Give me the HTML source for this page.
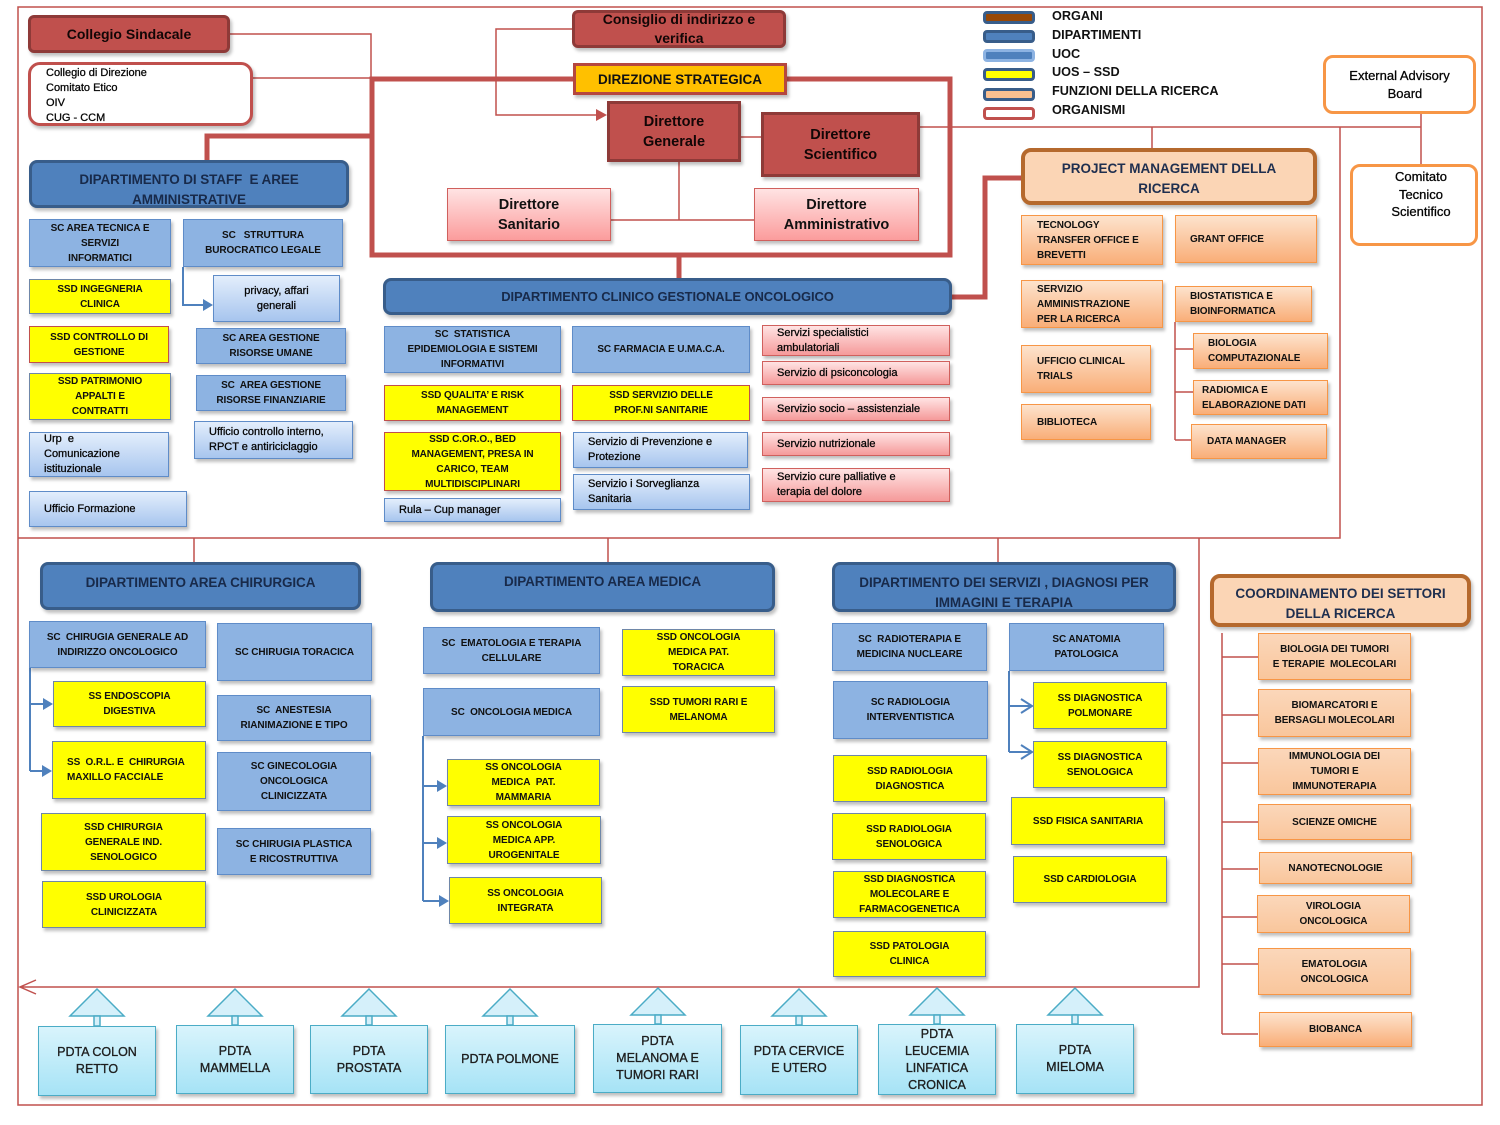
<!DOCTYPE html>
<html><head><meta charset="utf-8">
<style>
*{margin:0;padding:0;box-sizing:border-box}
body{width:1500px;height:1125px;background:#fff;position:relative;overflow:hidden;font-family:"Liberation Sans",Arial,sans-serif;color:#111}
.b{position:absolute;display:flex;align-items:center;justify-content:center;text-align:center;box-shadow:2px 3px 3px rgba(0,0,0,0.25);z-index:2}
.L{justify-content:flex-start;text-align:left}
.org{background:#c0504d;border:3px solid #8e3a38;font-weight:bold;font-size:14.5px;line-height:20px;color:#120606}
.dep{background:#4f81bd;border:3px solid #385d8a;border-radius:8px;font-weight:bold;font-size:13.5px;line-height:20px;color:#182a4a;letter-spacing:-0.1px}
.uoc{background:#8db3e2;border:1.5px solid #5f8cc8;font-weight:bold;font-size:10px;line-height:15px;letter-spacing:-0.1px}
.yel{background:#ffff00;border:1.5px solid #6f87a8;font-weight:bold;font-size:10px;line-height:15px;letter-spacing:-0.1px}
.yr{border-color:#c0504d}
.rg{-webkit-text-stroke:0.3px #111;color:#000}
.lb{background:linear-gradient(#e3eefc,#a7c5ee);border:1.5px solid #5f8cc8;font-size:11px;line-height:15px}
.pk{background:linear-gradient(#ffe3e3,#f59a9a);border:1.5px solid #d0605d;font-size:11px;line-height:15px}
.or{background:linear-gradient(#fde3cd,#f9ae78);border:1.5px solid #f79646;font-weight:bold;font-size:10px;line-height:15px;letter-spacing:-0.1px}
.co{background:linear-gradient(#fbd7ba,#f9c69c);border:1.5px solid #f79646;font-weight:bold;font-size:10px;line-height:15px;letter-spacing:-0.1px}
.pd{background:linear-gradient(#d9f4fc,#a6e3f6);border:1.5px solid #4bacc6;font-size:12.5px;line-height:17px;color:#222}
.dr{background:linear-gradient(#ffe3e3,#fb9c9c);border:1.5px solid #d0605d;font-weight:bold;font-size:14.5px;line-height:20px}
.lg{position:absolute;left:983px;width:52px;height:13px;border-radius:4px;border:3px solid #385d8a}
.lt{position:absolute;left:1052px;font-weight:bold;font-size:12.7px;line-height:16px}
</style></head><body>

<svg width="1500" height="1125" style="position:absolute;left:0;top:0;z-index:1">
<g fill="none" stroke="#c0504d" stroke-width="1.5">
<rect x="18" y="7" width="1464" height="1098"/>
<path d="M18 538H1340V127"/>
<path d="M920 127H1421M1421 114V164M1152 127V148"/>
<path d="M230 34H371V78M253 78H372"/>
<path d="M572 29H496V115H598"/>
<path d="M741 137H761M679 162V220M611 220H754"/>
<path d="M194 538V562M608 538V562M998 538V562M1199 538V987H20M36 980L20 987L36 994"/>
<path d="M1175 322V440M1175 349H1193M1175 392H1193M1175 440H1191"/>
<path d="M1222 633V1034M1222 657H1258M1222 715H1258M1222 763H1258M1222 822H1258M1222 869H1258M1222 917H1258M1222 964H1258M1222 1034H1258"/>
</g>
<polygon points="596,109 607,115 596,121" fill="#c0504d"/>
<g fill="none" stroke="#c0504d" stroke-width="5">
<path d="M372 79H950V255H372Z"/>
<path d="M679 255V278"/>
<path d="M952 297H985V178H1021"/>
<path d="M207 160V136H372"/>
</g>
<g fill="none" stroke="#4f81bd" stroke-width="2">
<path d="M183 267V305H204"/>
<path d="M30 668V771M30 704H44M30 771H43"/>
<path d="M423 736V901M423 786H438M423 843H438M423 901H440"/>
<path d="M1009 671V752M1009 706H1032M1009 752H1032M1021 699L1032 706L1021 713M1021 745L1032 752L1021 759"/>
</g>
<g fill="#4f81bd">
<polygon points="203,299 213,305 203,311"/>
<polygon points="43,698 53,704 43,710"/>
<polygon points="42,765 52,771 42,777"/>
<polygon points="437,780 447,786 437,792"/>
<polygon points="437,837 447,843 437,849"/>
<polygon points="439,895 449,901 439,907"/>
</g>
<g fill="#d5f0fa" stroke="#4bacc6" stroke-width="1.5">
<polygon points="97,989 70,1016 124,1016"/><rect x="94" y="1016" width="6" height="10"/>
<polygon points="235,989 208,1016 262,1016"/><rect x="232" y="1016" width="6" height="9"/>
<polygon points="369,989 342,1016 396,1016"/><rect x="366" y="1016" width="6" height="9"/>
<polygon points="510,989 483,1016 537,1016"/><rect x="507" y="1016" width="6" height="9"/>
<polygon points="658,988 631,1015 685,1015"/><rect x="655" y="1015" width="6" height="9"/>
<polygon points="799,989 772,1016 826,1016"/><rect x="796" y="1016" width="6" height="9"/>
<polygon points="937,988 910,1015 964,1015"/><rect x="934" y="1015" width="6" height="9"/>
<polygon points="1075,988 1048,1015 1102,1015"/><rect x="1072" y="1015" width="6" height="9"/>
</g>
</svg>

<!-- Top organs -->
<div class="b org" style="left:28px;top:15px;width:202px;height:38px;border-radius:6px;font-size:14px">Collegio Sindacale</div>
<div class="b L rg" style="left:28px;top:62px;width:225px;height:64px;background:#fff;border:3px solid #c0504d;border-radius:12px;font-size:11px;line-height:15px;padding-left:15px;align-items:flex-start;padding-top:1px">Collegio di Direzione<br>Comitato Etico<br>OIV<br>CUG - CCM</div>
<div class="b org" style="left:572px;top:10px;width:214px;height:38px;border-radius:6px;font-size:14px;line-height:19px">Consiglio di indirizzo e<br>verifica</div>
<div class="b" style="left:573px;top:63px;width:214px;height:32px;background:#ffc000;border:3px solid #b5473f;font-weight:bold;font-size:13.5px;color:#111">DIREZIONE STRATEGICA</div>
<div class="b org" style="left:607px;top:101px;width:134px;height:61px">Direttore<br>Generale</div>
<div class="b org" style="left:761px;top:112px;width:159px;height:65px">Direttore<br>Scientifico</div>
<div class="b dr" style="left:447px;top:188px;width:164px;height:53px">Direttore<br>Sanitario</div>
<div class="b dr" style="left:754px;top:188px;width:165px;height:53px">Direttore<br>Amministrativo</div>

<!-- Legend -->
<div class="lg" style="top:11px;background:#984807"></div>
<div class="lg" style="top:30px;background:#4f81bd"></div>
<div class="lg" style="top:49px;background:#4f81bd;border-color:#8db3e2"></div>
<div class="lg" style="top:68px;background:#ffff00"></div>
<div class="lg" style="top:88px;background:#fac090"></div>
<div class="lg" style="top:107px;background:#fff;border-color:#c0504d"></div>
<div class="lt" style="top:8px">ORGANI</div>
<div class="lt" style="top:27px">DIPARTIMENTI</div>
<div class="lt" style="top:46px">UOC</div>
<div class="lt" style="top:64px">UOS – SSD</div>
<div class="lt" style="top:83px">FUNZIONI DELLA RICERCA</div>
<div class="lt" style="top:102px">ORGANISMI</div>

<div class="b rg" style="left:1323px;top:55px;width:153px;height:59px;background:#fff;border:3px solid #f79646;border-radius:10px;font-size:13px;line-height:18px;box-shadow:none">External Advisory<br>&nbsp;&nbsp;&nbsp;Board</div>
<div class="b rg" style="left:1350px;top:164px;width:128px;height:82px;background:#fff;border:3px solid #f79646;border-radius:10px;font-size:13px;line-height:17.5px;align-items:flex-start;padding-top:1px;padding-left:14px;box-shadow:none">Comitato<br>Tecnico<br>Scientifico</div>

<!-- Project management -->
<div class="b" style="left:1021px;top:148px;width:296px;height:57px;background:#fbd5b5;border:4px solid #b5692d;border-radius:10px;font-weight:bold;font-size:13.5px;line-height:20px;color:#1f2f4f;padding-top:5px">PROJECT MANAGEMENT DELLA<br>RICERCA</div>
<div class="b or L" style="left:1021px;top:215px;width:142px;height:50px;padding-left:15px">TECNOLOGY<br>TRANSFER OFFICE E<br>BREVETTI</div>
<div class="b or L" style="left:1175px;top:215px;width:142px;height:48px;padding-left:14px">GRANT OFFICE</div>
<div class="b or L" style="left:1021px;top:280px;width:142px;height:48px;padding-left:15px">SERVIZIO<br>AMMINISTRAZIONE<br>PER LA RICERCA</div>
<div class="b or L" style="left:1175px;top:286px;width:137px;height:36px;padding-left:14px">BIOSTATISTICA E<br>BIOINFORMATICA</div>
<div class="b or L" style="left:1193px;top:333px;width:135px;height:36px;padding-left:14px">BIOLOGIA<br>COMPUTAZIONALE</div>
<div class="b or L" style="left:1193px;top:380px;width:135px;height:35px;padding-left:8px">RADIOMICA E<br>ELABORAZIONE DATI</div>
<div class="b or L" style="left:1191px;top:424px;width:136px;height:35px;padding-left:15px">DATA MANAGER</div>
<div class="b or L" style="left:1021px;top:345px;width:130px;height:48px;padding-left:15px">UFFICIO CLINICAL<br>TRIALS</div>
<div class="b or L" style="left:1021px;top:404px;width:130px;height:36px;padding-left:15px">BIBLIOTECA</div>

<!-- Staff -->
<div class="b dep" style="left:29px;top:160px;width:320px;height:48px;padding-top:12px">DIPARTIMENTO DI STAFF&nbsp; E AREE<br>AMMINISTRATIVE</div>
<div class="b uoc" style="left:29px;top:219px;width:142px;height:48px">SC AREA TECNICA E<br>SERVIZI<br>INFORMATICI</div>
<div class="b uoc" style="left:183px;top:219px;width:160px;height:48px">SC&nbsp;&nbsp; STRUTTURA<br>BUROCRATICO LEGALE</div>
<div class="b yel" style="left:29px;top:279px;width:142px;height:35px">SSD INGEGNERIA<br>CLINICA</div>
<div class="b yel yr" style="left:29px;top:326px;width:140px;height:37px">SSD CONTROLLO DI<br>GESTIONE</div>
<div class="b yel" style="left:29px;top:373px;width:142px;height:47px">SSD PATRIMONIO<br>APPALTI E<br>CONTRATTI</div>
<div class="b lb L rg" style="left:29px;top:432px;width:140px;height:45px;padding-left:14px">Urp&nbsp; e<br>Comunicazione<br>istituzionale</div>
<div class="b lb L rg" style="left:29px;top:491px;width:158px;height:36px;padding-left:14px">Ufficio Formazione</div>
<div class="b lb rg" style="left:213px;top:275px;width:127px;height:47px">privacy, affari<br>generali</div>
<div class="b uoc" style="left:196px;top:328px;width:150px;height:36px">SC AREA GESTIONE<br>RISORSE UMANE</div>
<div class="b uoc" style="left:196px;top:375px;width:150px;height:36px">SC&nbsp; AREA GESTIONE<br>RISORSE FINANZIARIE</div>
<div class="b lb L rg" style="left:194px;top:421px;width:159px;height:38px;padding-left:14px">Ufficio controllo interno,<br>RPCT e antiriciclaggio</div>

<!-- Dip clinico -->
<div class="b dep" style="left:383px;top:278px;width:569px;height:37px;font-size:13px">DIPARTIMENTO CLINICO GESTIONALE ONCOLOGICO</div>
<div class="b uoc" style="left:384px;top:326px;width:177px;height:47px">SC&nbsp; STATISTICA<br>EPIDEMIOLOGIA E SISTEMI<br>INFORMATIVI</div>
<div class="b uoc" style="left:572px;top:326px;width:178px;height:47px">SC FARMACIA E U.MA.C.A.</div>
<div class="b yel yr" style="left:384px;top:385px;width:177px;height:36px">SSD QUALITA’ E RISK<br>MANAGEMENT</div>
<div class="b yel yr" style="left:572px;top:385px;width:178px;height:36px">SSD SERVIZIO DELLE<br>PROF.NI SANITARIE</div>
<div class="b yel yr" style="left:384px;top:432px;width:177px;height:59px">SSD C.OR.O., BED<br>MANAGEMENT, PRESA IN<br>CARICO, TEAM<br>MULTIDISCIPLINARI</div>
<div class="b lb L rg" style="left:384px;top:498px;width:177px;height:24px;padding-left:14px">Rula – Cup manager</div>
<div class="b lb L rg" style="left:573px;top:432px;width:175px;height:36px;padding-left:14px">Servizio di Prevenzione e<br>Protezione</div>
<div class="b lb L rg" style="left:573px;top:474px;width:177px;height:36px;padding-left:14px">Servizio i Sorveglianza<br>Sanitaria</div>
<div class="b pk L rg" style="left:762px;top:325px;width:188px;height:31px;padding-left:14px">Servizi specialistici<br>ambulatoriali</div>
<div class="b pk L rg" style="left:762px;top:361px;width:188px;height:24px;padding-left:14px">Servizio di psiconcologia</div>
<div class="b pk L rg" style="left:762px;top:397px;width:188px;height:24px;padding-left:14px">Servizio socio – assistenziale</div>
<div class="b pk L rg" style="left:762px;top:432px;width:188px;height:24px;padding-left:14px">Servizio nutrizionale</div>
<div class="b pk L rg" style="left:762px;top:468px;width:188px;height:34px;padding-left:14px">Servizio cure palliative e<br>terapia del dolore</div>

<!-- Chirurgica -->
<div class="b dep" style="left:40px;top:562px;width:321px;height:48px;padding-bottom:6px">DIPARTIMENTO AREA CHIRURGICA</div>
<div class="b uoc" style="left:29px;top:621px;width:177px;height:47px">SC&nbsp; CHIRUGIA GENERALE AD<br>INDIRIZZO ONCOLOGICO</div>
<div class="b uoc" style="left:217px;top:623px;width:155px;height:58px">SC CHIRUGIA TORACICA</div>
<div class="b yel" style="left:53px;top:681px;width:153px;height:46px">SS ENDOSCOPIA<br>DIGESTIVA</div>
<div class="b uoc" style="left:217px;top:695px;width:154px;height:46px">SC&nbsp; ANESTESIA<br>RIANIMAZIONE E TIPO</div>
<div class="b yel L" style="left:52px;top:741px;width:154px;height:58px;padding-left:14px">SS&nbsp; O.R.L. E&nbsp; CHIRURGIA<br>MAXILLO FACCIALE</div>
<div class="b uoc" style="left:217px;top:752px;width:154px;height:59px">SC GINECOLOGIA<br>ONCOLOGICA<br>CLINICIZZATA</div>
<div class="b yel" style="left:41px;top:813px;width:165px;height:58px">SSD CHIRURGIA<br>GENERALE IND.<br>SENOLOGICO</div>
<div class="b uoc" style="left:217px;top:828px;width:154px;height:47px">SC CHIRUGIA PLASTICA<br>E RICOSTRUTTIVA</div>
<div class="b yel" style="left:42px;top:881px;width:164px;height:47px">SSD UROLOGIA<br>CLINICIZZATA</div>

<!-- Medica -->
<div class="b dep" style="left:430px;top:562px;width:345px;height:50px;padding-bottom:10px">DIPARTIMENTO AREA MEDICA</div>
<div class="b uoc" style="left:423px;top:627px;width:177px;height:47px">SC&nbsp; EMATOLOGIA E TERAPIA<br>CELLULARE</div>
<div class="b uoc" style="left:423px;top:688px;width:177px;height:48px">SC&nbsp; ONCOLOGIA MEDICA</div>
<div class="b yel" style="left:622px;top:629px;width:153px;height:47px">SSD ONCOLOGIA<br>MEDICA PAT.<br>TORACICA</div>
<div class="b yel" style="left:622px;top:686px;width:153px;height:47px">SSD TUMORI RARI E<br>MELANOMA</div>
<div class="b yel" style="left:447px;top:759px;width:153px;height:47px">SS ONCOLOGIA<br>MEDICA&nbsp; PAT.<br>MAMMARIA</div>
<div class="b yel" style="left:447px;top:816px;width:154px;height:48px">SS ONCOLOGIA<br>MEDICA APP.<br>UROGENITALE</div>
<div class="b yel" style="left:449px;top:877px;width:153px;height:47px">SS ONCOLOGIA<br>INTEGRATA</div>

<!-- Servizi -->
<div class="b dep" style="left:832px;top:562px;width:344px;height:50px;padding-top:12px">DIPARTIMENTO DEI SERVIZI , DIAGNOSI PER<br>IMMAGINI E TERAPIA</div>
<div class="b uoc" style="left:832px;top:623px;width:155px;height:48px">SC&nbsp; RADIOTERAPIA E<br>MEDICINA NUCLEARE</div>
<div class="b uoc" style="left:833px;top:681px;width:155px;height:58px">SC RADIOLOGIA<br>INTERVENTISTICA</div>
<div class="b yel" style="left:833px;top:755px;width:154px;height:47px">SSD RADIOLOGIA<br>DIAGNOSTICA</div>
<div class="b yel" style="left:832px;top:813px;width:154px;height:47px">SSD RADIOLOGIA<br>SENOLOGICA</div>
<div class="b yel" style="left:833px;top:871px;width:153px;height:47px">SSD DIAGNOSTICA<br>MOLECOLARE E<br>FARMACOGENETICA</div>
<div class="b yel" style="left:833px;top:931px;width:153px;height:46px">SSD PATOLOGIA<br>CLINICA</div>
<div class="b uoc" style="left:1009px;top:623px;width:155px;height:48px">SC ANATOMIA<br>PATOLOGICA</div>
<div class="b yel" style="left:1033px;top:682px;width:134px;height:47px">SS DIAGNOSTICA<br>POLMONARE</div>
<div class="b yel" style="left:1033px;top:741px;width:134px;height:47px">SS DIAGNOSTICA<br>SENOLOGICA</div>
<div class="b yel" style="left:1011px;top:797px;width:154px;height:48px">SSD FISICA SANITARIA</div>
<div class="b yel" style="left:1013px;top:856px;width:154px;height:47px">SSD CARDIOLOGIA</div>

<!-- Coordinamento -->
<div class="b" style="left:1210px;top:574px;width:261px;height:53px;background:#fbd5b5;border:4px solid #b5692d;border-radius:10px;font-weight:bold;font-size:13.5px;line-height:20px;color:#1f2f4f;padding-top:7px">COORDINAMENTO DEI SETTORI<br>DELLA RICERCA</div>
<div class="b co" style="left:1258px;top:633px;width:153px;height:47px">BIOLOGIA DEI TUMORI<br>E TERAPIE&nbsp; MOLECOLARI</div>
<div class="b co" style="left:1258px;top:689px;width:153px;height:48px">BIOMARCATORI E<br>BERSAGLI MOLECOLARI</div>
<div class="b co" style="left:1258px;top:748px;width:153px;height:47px">IMMUNOLOGIA DEI<br>TUMORI E<br>IMMUNOTERAPIA</div>
<div class="b co" style="left:1258px;top:804px;width:153px;height:36px">SCIENZE OMICHE</div>
<div class="b co" style="left:1259px;top:852px;width:153px;height:32px">NANOTECNOLOGIE</div>
<div class="b co" style="left:1257px;top:895px;width:153px;height:38px">VIROLOGIA<br>ONCOLOGICA</div>
<div class="b co" style="left:1258px;top:948px;width:153px;height:47px">EMATOLOGIA<br>ONCOLOGICA</div>
<div class="b or" style="left:1259px;top:1012px;width:153px;height:35px">BIOBANCA</div>

<!-- PDTA -->
<div class="b pd rg" style="left:38px;top:1026px;width:118px;height:70px">PDTA COLON<br>RETTO</div>
<div class="b pd rg" style="left:176px;top:1025px;width:118px;height:69px">PDTA<br>MAMMELLA</div>
<div class="b pd rg" style="left:310px;top:1025px;width:118px;height:69px">PDTA<br>PROSTATA</div>
<div class="b pd rg" style="left:445px;top:1025px;width:130px;height:69px">PDTA POLMONE</div>
<div class="b pd rg" style="left:593px;top:1024px;width:129px;height:69px">PDTA<br>MELANOMA E<br>TUMORI RARI</div>
<div class="b pd rg" style="left:740px;top:1025px;width:118px;height:70px">PDTA CERVICE<br>E UTERO</div>
<div class="b pd rg" style="left:878px;top:1024px;width:118px;height:71px">PDTA<br>LEUCEMIA<br>LINFATICA<br>CRONICA</div>
<div class="b pd rg" style="left:1016px;top:1024px;width:118px;height:70px">PDTA<br>MIELOMA</div>

</body></html>
